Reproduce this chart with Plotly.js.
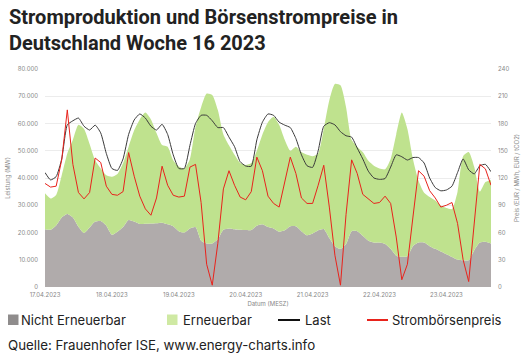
<!DOCTYPE html>
<html>
<head>
<meta charset="utf-8">
<script src="https://cdn.plot.ly/plotly-3.0.1.min.js"></script>
<style>
html,body{margin:0;padding:0;background:#fff;}
#chart{width:529px;height:360px;}
</style>
</head>
<body>
<div id="chart"></div>
<script>
// Time stamps (2-hour grid, MESZ)
const times = [
"2023-04-17 00:00","2023-04-17 02:00","2023-04-17 04:00","2023-04-17 06:00","2023-04-17 08:00","2023-04-17 10:00","2023-04-17 12:00","2023-04-17 14:00","2023-04-17 16:00","2023-04-17 18:00","2023-04-17 20:00","2023-04-17 22:00",
"2023-04-18 00:00","2023-04-18 02:00","2023-04-18 04:00","2023-04-18 06:00","2023-04-18 08:00","2023-04-18 10:00","2023-04-18 12:00","2023-04-18 14:00","2023-04-18 16:00","2023-04-18 18:00","2023-04-18 20:00","2023-04-18 22:00",
"2023-04-19 00:00","2023-04-19 02:00","2023-04-19 04:00","2023-04-19 06:00","2023-04-19 08:00","2023-04-19 10:00","2023-04-19 12:00","2023-04-19 14:00","2023-04-19 16:00","2023-04-19 18:00","2023-04-19 20:00","2023-04-19 22:00",
"2023-04-20 00:00","2023-04-20 02:00","2023-04-20 04:00","2023-04-20 06:00","2023-04-20 08:00","2023-04-20 10:00","2023-04-20 12:00","2023-04-20 14:00","2023-04-20 16:00","2023-04-20 18:00","2023-04-20 20:00","2023-04-20 22:00",
"2023-04-21 00:00","2023-04-21 02:00","2023-04-21 04:00","2023-04-21 06:00","2023-04-21 08:00","2023-04-21 10:00","2023-04-21 12:00","2023-04-21 14:00","2023-04-21 16:00","2023-04-21 18:00","2023-04-21 20:00","2023-04-21 22:00",
"2023-04-22 00:00","2023-04-22 02:00","2023-04-22 04:00","2023-04-22 06:00","2023-04-22 08:00","2023-04-22 10:00","2023-04-22 12:00","2023-04-22 14:00","2023-04-22 16:00","2023-04-22 18:00","2023-04-22 20:00","2023-04-22 22:00",
"2023-04-23 00:00","2023-04-23 02:00","2023-04-23 04:00","2023-04-23 06:00","2023-04-23 08:00","2023-04-23 10:00","2023-04-23 12:00","2023-04-23 14:00","2023-04-23 16:00"
];

// Nicht Erneuerbar (MW)
const nichtErneuerbar = [
21200,21000,22600,25500,26800,25500,22100,19800,21800,24000,24200,22500,
19200,20300,22000,24600,24000,23100,23200,23300,23400,23600,23000,22300,
20500,20000,21500,22000,17000,16000,16000,17500,21000,21500,21200,21000,
20900,20900,22500,23000,22000,21500,20300,20800,22300,22300,20500,19000,
19600,20800,21300,18000,15000,14000,15800,20500,20500,18800,17000,16300,
16300,15800,14000,11500,11100,11300,15000,16300,16300,15000,14000,13000,
12000,11000,10000,9800,9800,13500,16300,16600,16000
];

// Erneuerbar (MW)
const erneuerbar = [
13200,11500,11200,15500,22200,28500,37400,38200,30700,22500,19300,18500,
21300,21200,23400,26900,33500,38400,40800,38200,33100,28500,28500,24200,
23700,23500,25500,36800,49000,55000,54500,47500,35000,30500,27300,24500,
23900,24600,27500,33000,38500,41000,39200,33200,27700,29200,29000,29500,
28400,28200,36700,50500,59500,60000,50200,33500,31000,30700,29300,28200,
27200,27400,33000,44500,52900,46700,32000,22700,18300,18000,17700,16800,
17000,17600,25000,38200,39700,30500,18700,21900,23300
];

// Last (MW)
const last = [
42000,39300,40500,47000,59500,61000,62000,59000,57600,59400,56500,49000,
43500,42800,47000,56000,61300,63500,62000,59000,57600,59700,56000,48500,
43500,43500,52000,60000,63000,63000,61000,58500,58500,55000,51500,46000,
44400,44300,54000,60500,63500,63000,60500,59400,58500,54500,48500,44500,
43900,50000,59000,60300,59500,57000,55500,55000,51000,47000,42500,40000,
39500,39800,44000,48500,47800,46600,47500,47500,45500,40000,36500,35300,
35600,37000,42000,47000,43000,41500,44500,45000,42300
];

// Strombörsenpreis (EUR/MWh)
const preis = [
114,110,111,140,195,135,104,97,104,142,137,111,
102,101,105,148,122,100,86,79,98,133,112,101,
99,100,132,135,93,25,2,48,108,128,112,99,
96,105,143,128,100,92,88,115,143,125,98,92,
92,112,134,88,35,2,80,140,125,102,97,92,
93,100,92,55,8,25,77,128,122,106,98,88,
90,93,70,30,6,70,135,130,112
];

const dayTicks = ["2023-04-17","2023-04-18","2023-04-19","2023-04-20","2023-04-21","2023-04-22","2023-04-23"];
const dayLabels = ["17.04.2023","18.04.2023","19.04.2023","20.04.2023","21.04.2023","22.04.2023","23.04.2023"];
const legendNames = ["Nicht Erneuerbar","Erneuerbar","Last","Strombörsenpreis"];

const cGray = "#b0abab";
const cGreen = "#bfe28e";
const cBlack = "#3a3a3a";
const cRed = "#e8231c";
const uiFont = "Inter, Roboto, 'DejaVu Sans', sans-serif";

const traces = [
  {x: times, y: nichtErneuerbar, type: "scatter", mode: "lines", stackgroup: "prod",
   line: {width: 0, shape: "spline", smoothing: 0.6}, fillcolor: cGray, name: legendNames[0], hoverinfo: "skip"},
  {x: times, y: erneuerbar, type: "scatter", mode: "lines", stackgroup: "prod",
   line: {width: 0, shape: "spline", smoothing: 0.6}, fillcolor: cGreen, name: legendNames[1], hoverinfo: "skip"},
  {x: times, y: last, type: "scatter", mode: "lines", name: legendNames[2],
   line: {color: cBlack, width: 1, shape: "spline", smoothing: 0.5}},
  {x: times, y: preis, type: "scatter", mode: "lines", name: legendNames[3], yaxis: "y2",
   line: {color: cRed, width: 1, shape: "linear"}}
];

// pixel -> paper helpers for legend / footer placement
const PL = 45, PW = 446, PB = 287, PH = 218;
const px = p => (p - PL) / PW;
const py = p => (PB - p) / PH;

const legendY = 320;
const shapes = [
  {type: "rect", xref: "paper", yref: "paper", x0: px(8), x1: px(18.5), y0: py(legendY - 5.5), y1: py(legendY + 5), fillcolor: "#8f8c8c", line: {width: 0}},
  {type: "rect", xref: "paper", yref: "paper", x0: px(167), x1: px(177.5), y0: py(legendY - 5.5), y1: py(legendY + 5), fillcolor: "#cfe9a3", line: {width: 0}},
  {type: "line", xref: "paper", yref: "paper", x0: px(278), x1: px(300), y0: py(legendY), y1: py(legendY), line: {color: "#111", width: 2}},
  {type: "line", xref: "paper", yref: "paper", x0: px(367), x1: px(388), y0: py(legendY), y1: py(legendY), line: {color: cRed, width: 2}}
];

const legendText = (t, x) => ({
  text: t, xref: "paper", yref: "paper", x: px(x), y: py(legendY),
  xanchor: "left", yanchor: "middle", showarrow: false,
  font: {family: uiFont, size: 13, color: "#222"}
});

const layout = {
  width: 529, height: 360,
  margin: {l: 45, r: 38, t: 69, b: 73},
  paper_bgcolor: "#fff", plot_bgcolor: "#fff",
  separators: ",.",
  showlegend: false,
  font: {family: uiFont, color: "#222"},
  xaxis: {
    type: "date",
    range: ["2023-04-17 00:00", "2023-04-23 16:00"],
    tickvals: dayTicks, ticktext: dayLabels,
    showgrid: false, zeroline: false,
    showline: false, ticks: "", ticklabelstandoff: 3,
    tickfont: {size: 6, color: "#888"},
    title: {text: "Datum (MESZ)", font: {size: 6, color: "#888"}, standoff: 4}
  },
  yaxis: {
    range: [0, 80000], dtick: 10000, tickformat: ",d",
    showgrid: true, gridcolor: "#ececec", gridwidth: 1,
    zeroline: false, ticks: "", ticklabelstandoff: 6,
    tickfont: {size: 6, color: "#888"},
    title: {text: "Leistung (MW)", font: {size: 6, color: "#888"}, standoff: 6}
  },
  yaxis2: {
    overlaying: "y", side: "right",
    range: [0, 240], dtick: 30,
    showgrid: false, zeroline: false, ticks: "",
    tickfont: {size: 6, color: "#888"}, ticklabelstandoff: 6,
    title: {text: "Preis (EUR / MWh, EUR / tCO2)", font: {size: 6, color: "#888"}, standoff: 6}
  },
  shapes: shapes,
  annotations: [{
    text: "<b>Stromproduktion und Börsenstrompreise in<br>Deutschland Woche 16 2023</b>",
    xref: "paper", yref: "paper", x: px(7), y: py(3),
    xanchor: "left", yanchor: "top", align: "left", showarrow: false,
    font: {family: "Roboto, Inter, sans-serif", size: 20, color: "#222"}
  },
  legendText(legendNames[0], 19),
  legendText(legendNames[1], 181),
  legendText(legendNames[2], 303),
  legendText(legendNames[3], 390),
  {
    text: "Quelle: Frauenhofer ISE, www.energy-charts.info",
    xref: "paper", yref: "paper", x: px(6), y: py(345),
    xanchor: "left", yanchor: "middle", showarrow: false,
    font: {family: uiFont, size: 13.3, color: "#222"}
  }]
};

Plotly.newPlot("chart", traces, layout, {displayModeBar: false, staticPlot: true});
</script>
</body>
</html>
